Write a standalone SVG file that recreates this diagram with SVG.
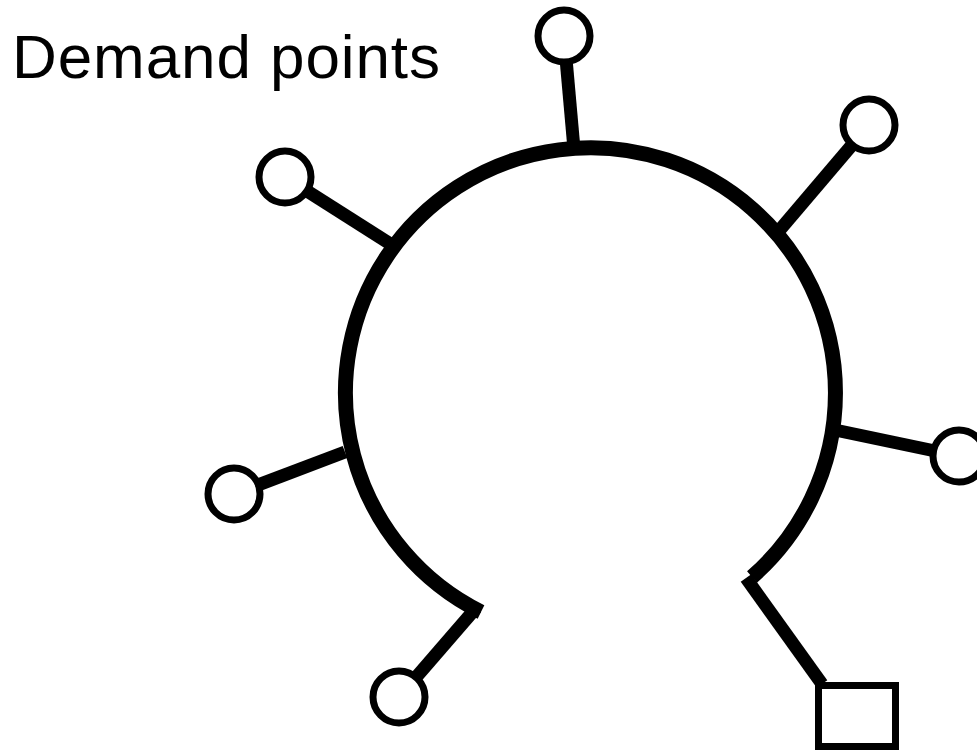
<svg xmlns="http://www.w3.org/2000/svg" width="977" height="752" viewBox="0 0 977 752">
<style>
.stub{stroke:#000;stroke-width:13;fill:none}
.ring{stroke:#000;stroke-width:7;fill:#fff}
.label{font-family:"Liberation Sans",Arial,sans-serif;font-size:62px;fill:#000}
</style>
<rect width="977" height="752" fill="#fff"/>
<g id="connectors">
<path id="ring-main" d="M 481 612 A 245 245 0 1 1 752 577" stroke="#000" stroke-width="15" fill="none"/>
<line class="stub" x1="574" y1="149" x2="564" y2="36"/>
<line class="stub" x1="778" y1="232" x2="869" y2="125"/>
<line class="stub" x1="835" y1="430" x2="959" y2="456"/>
<line class="stub" x1="345" y1="452" x2="234" y2="494"/>
<line class="stub" x1="392" y1="245" x2="285" y2="177"/>
<line class="stub" x1="476" y1="608" x2="399" y2="697"/>
<line class="stub" x1="746" y1="578" x2="822" y2="684"/>
</g>
<g id="d1"><circle class="ring" cx="564" cy="36" r="26"/></g>
<g id="d2"><circle class="ring" cx="869" cy="125" r="26"/></g>
<g id="d3"><circle class="ring" cx="959" cy="456" r="26"/></g>
<g id="d4"><circle class="ring" cx="234" cy="494" r="26"/></g>
<g id="d5"><circle class="ring" cx="285" cy="177" r="26"/></g>
<g id="d6"><circle class="ring" cx="399" cy="697" r="26"/></g>
<g id="depot"><rect class="ring" x="818.5" y="685.5" width="77" height="61"/></g>
<text class="label" x="12" y="78" textLength="428" lengthAdjust="spacing">Demand points</text>
</svg>
